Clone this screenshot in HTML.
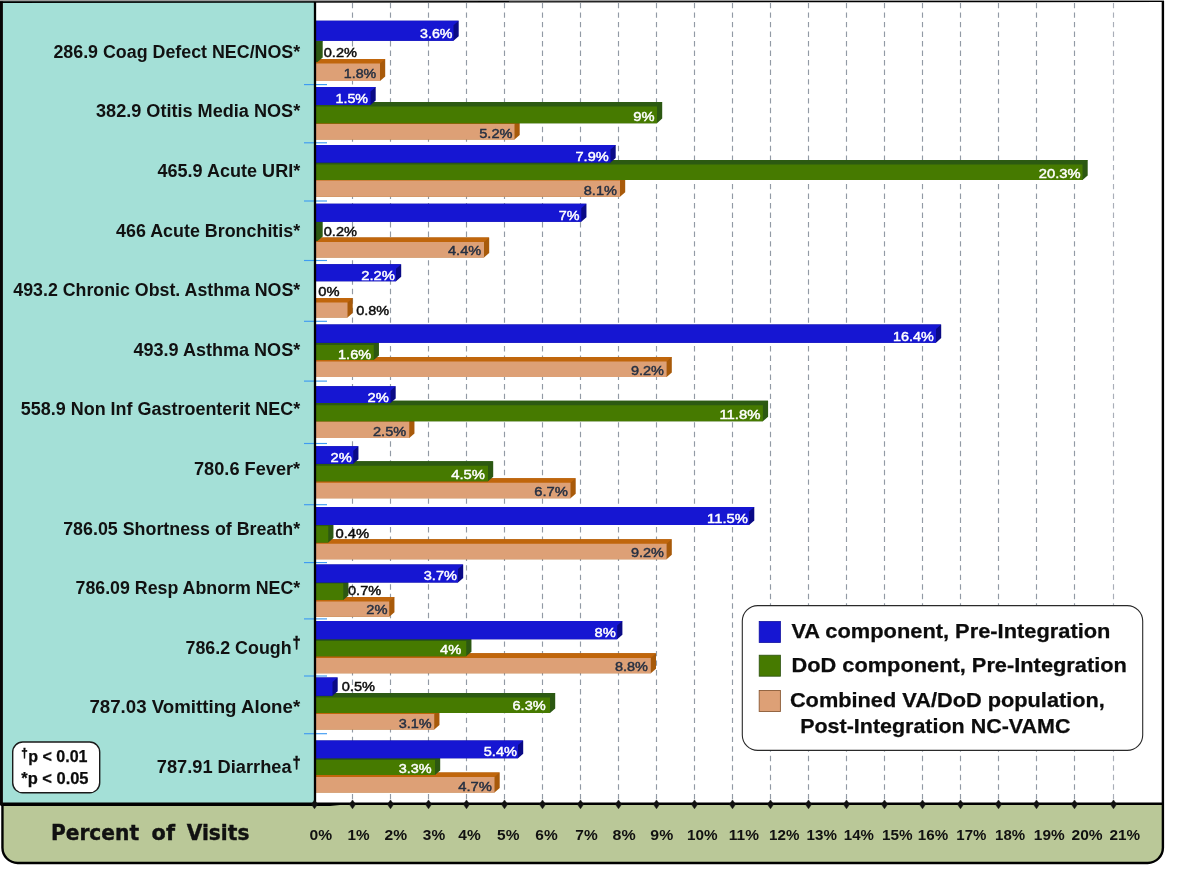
<!DOCTYPE html>
<html lang="en"><head><meta charset="utf-8"><title>Percent of Visits by diagnosis</title>
<style>html,body{margin:0;padding:0;background:#fff}svg{display:block}text{font-family:"Liberation Sans",sans-serif}.lab{font-size:18px;font-weight:bold;fill:#111}.val{font-size:13.5px;font-weight:normal;stroke-width:.45px}.ax{font-size:14.2px;font-weight:bold;fill:#111}.leg{font-size:20.5px;stroke:#0c0c0c;stroke-width:.25px;font-weight:bold;fill:#0c0c0c}.pv{font-size:16px;font-weight:bold;fill:#0c0c0c;stroke:#0c0c0c;stroke-width:.25px}.ft text{font-family:"DejaVu Sans","Liberation Sans",sans-serif;font-size:21.3px;font-weight:bold;fill:#111;stroke:#111;stroke-width:.4px}</style></head><body>
<svg width="1200" height="873" viewBox="0 0 1200 873">
<rect width="1200" height="873" fill="#fff"/>
<path d="M2.45,1.0 H1162.9 V847.75 A15.2,15.2 0 0 1 1147.7,862.95 H17.65 A15.2,15.2 0 0 1 2.45,847.75 Z" fill="#bac898"/>
<rect x="2.45" y="1.0" width="1160.45" height="803.0" fill="#fff"/>
<g stroke="#929aa5" stroke-width="1.15" stroke-dasharray="5.4 4.13" fill="none">
<path d="M352.50,2.9 V802"/>
<path d="M390.50,2.9 V802"/>
<path d="M428.50,2.9 V802"/>
<path d="M466.50,2.9 V802"/>
<path d="M504.50,2.9 V802"/>
<path d="M542.50,2.9 V802"/>
<path d="M580.50,2.9 V802"/>
<path d="M618.50,2.9 V802"/>
<path d="M656.50,2.9 V802"/>
<path d="M694.50,2.9 V802"/>
<path d="M732.50,2.9 V802"/>
<path d="M770.50,2.9 V802"/>
<path d="M808.50,2.9 V802"/>
<path d="M846.50,2.9 V802"/>
<path d="M884.50,2.9 V802"/>
<path d="M922.50,2.9 V802"/>
<path d="M960.50,2.9 V802"/>
<path d="M998.50,2.9 V802"/>
<path d="M1036.50,2.9 V802"/>
<path d="M1074.50,2.9 V802"/>
<path d="M1113.50,2.9 V802" stroke="#a9aeb8"/>
</g>
<g>
<path d="M307.0,59 H385.2 V76.4 L380,81 H307.0 Z" fill="#a85a0a"/><path d="M307.0,59 H385.2 L380,63.6 V64.6 H307.0 Z" fill="#c0660c"/><path d="M307.0,63.6 H380 V81 H307.0 Z" fill="#dda076"/>
<path d="M307.0,41 H322.7 V57.4 L317.5,62 H307.0 Z" fill="#2c5812"/><path d="M307.0,41 H322.7 L317.5,45.6 V46.6 H307.0 Z" fill="#2c5a12"/><path d="M307.0,45.6 H317.5 V62 H307.0 Z" fill="#2c5812"/>
<path d="M307.0,20.75 H458.7 V36.15 L453.5,40.75 H307.0 Z" fill="#0a0a86"/><path d="M307.0,20.75 H458.7 L453.5,25.35 V40.75 H307.0 Z" fill="#1616d2"/>
<path d="M307.0,119.5 H519.7 V134.9 L514.5,139.5 H307.0 Z" fill="#a85a0a"/><path d="M307.0,119.5 H519.7 L514.5,124.1 V125.1 H307.0 Z" fill="#c0660c"/><path d="M307.0,124.1 H514.5 V139.5 H307.0 Z" fill="#dda076"/>
<path d="M307.0,102 H662.2 V118.60000000000001 L657,123.2 H307.0 Z" fill="#2c5812"/><path d="M307.0,102 H662.2 L657,106.6 V107.6 H307.0 Z" fill="#2c5a12"/><path d="M307.0,106.6 H657 V123.2 H307.0 Z" fill="#467a00"/>
<path d="M307.0,87 H375.7 V100.4 L370.5,105 H307.0 Z" fill="#0a0a86"/><path d="M307.0,87 H375.7 L370.5,91.6 V105 H307.0 Z" fill="#1616d2"/>
<path d="M307.0,176 H625.2 V192.15 L620,196.75 H307.0 Z" fill="#a85a0a"/><path d="M307.0,176 H625.2 L620,180.6 V181.6 H307.0 Z" fill="#c0660c"/><path d="M307.0,180.6 H620 V196.75 H307.0 Z" fill="#dda076"/>
<path d="M307.0,160 H1087.7 V175.4 L1082.5,180 H307.0 Z" fill="#2c5812"/><path d="M307.0,160 H1087.7 L1082.5,164.6 V165.6 H307.0 Z" fill="#2c5a12"/><path d="M307.0,164.6 H1082.5 V180 H307.0 Z" fill="#467a00"/>
<path d="M307.0,145 H615.7 V157.9 L610.5,162.5 H307.0 Z" fill="#0a0a86"/><path d="M307.0,145 H615.7 L610.5,149.6 V162.5 H307.0 Z" fill="#1616d2"/>
<path d="M307.0,237.5 H489.2 V252.9 L484,257.5 H307.0 Z" fill="#a85a0a"/><path d="M307.0,237.5 H489.2 L484,242.1 V243.1 H307.0 Z" fill="#c0660c"/><path d="M307.0,242.1 H484 V257.5 H307.0 Z" fill="#dda076"/>
<path d="M307.0,221.5 H322.7 V236.4 L317.5,241 H307.0 Z" fill="#2c5812"/><path d="M307.0,221.5 H322.7 L317.5,226.1 V227.1 H307.0 Z" fill="#2c5a12"/><path d="M307.0,226.1 H317.5 V241 H307.0 Z" fill="#2c5812"/>
<path d="M307.0,203.75 H586.45 V217.15 L581.25,221.75 H307.0 Z" fill="#0a0a86"/><path d="M307.0,203.75 H586.45 L581.25,208.35 V221.75 H307.0 Z" fill="#1616d2"/>
<path d="M307.0,298 H352.7 V312.9 L347.5,317.5 H307.0 Z" fill="#a85a0a"/><path d="M307.0,298 H352.7 L347.5,302.6 V303.6 H307.0 Z" fill="#c0660c"/><path d="M307.0,302.6 H347.5 V317.5 H307.0 Z" fill="#dda076"/>
<path d="M307.0,264.25 H401.2 V276.65 L396,281.25 H307.0 Z" fill="#0a0a86"/><path d="M307.0,264.25 H401.2 L396,268.85 V281.25 H307.0 Z" fill="#1616d2"/>
<path d="M307.0,357 H671.8000000000001 V372.4 L666.6,377 H307.0 Z" fill="#a85a0a"/><path d="M307.0,357 H671.8000000000001 L666.6,361.6 V362.6 H307.0 Z" fill="#c0660c"/><path d="M307.0,361.6 H666.6 V377 H307.0 Z" fill="#dda076"/>
<path d="M307.0,340.5 H378.95 V355.4 L373.75,360 H307.0 Z" fill="#2c5812"/><path d="M307.0,340.5 H378.95 L373.75,345.1 V346.1 H307.0 Z" fill="#2c5a12"/><path d="M307.0,345.1 H373.75 V360 H307.0 Z" fill="#467a00"/>
<path d="M307.0,324.5 H941.2 V338.09999999999997 L936,342.7 H307.0 Z" fill="#0a0a86"/><path d="M307.0,324.5 H941.2 L936,329.1 V342.7 H307.0 Z" fill="#1616d2"/>
<path d="M307.0,417 H414.45 V433.4 L409.25,438 H307.0 Z" fill="#a85a0a"/><path d="M307.0,417 H414.45 L409.25,421.6 V422.6 H307.0 Z" fill="#c0660c"/><path d="M307.0,421.6 H409.25 V438 H307.0 Z" fill="#dda076"/>
<path d="M307.0,400.75 H768.1 V416.65 L762.9,421.25 H307.0 Z" fill="#2c5812"/><path d="M307.0,400.75 H768.1 L762.9,405.35 V406.35 H307.0 Z" fill="#2c5a12"/><path d="M307.0,405.35 H762.9 V421.25 H307.0 Z" fill="#467a00"/>
<path d="M307.0,386.25 H395.7 V398.4 L390.5,403 H307.0 Z" fill="#0a0a86"/><path d="M307.0,386.25 H395.7 L390.5,390.85 V403 H307.0 Z" fill="#1616d2"/>
<path d="M307.0,478.25 H575.7 V493.65 L570.5,498.25 H307.0 Z" fill="#a85a0a"/><path d="M307.0,478.25 H575.7 L570.5,482.85 V483.85 H307.0 Z" fill="#c0660c"/><path d="M307.0,482.85 H570.5 V498.25 H307.0 Z" fill="#dda076"/>
<path d="M307.0,461.25 H493.2 V476.65 L488,481.25 H307.0 Z" fill="#2c5812"/><path d="M307.0,461.25 H493.2 L488,465.85 V466.85 H307.0 Z" fill="#2c5a12"/><path d="M307.0,465.85 H488 V481.25 H307.0 Z" fill="#467a00"/>
<path d="M307.0,446.25 H358.45 V459.15 L353.25,463.75 H307.0 Z" fill="#0a0a86"/><path d="M307.0,446.25 H358.45 L353.25,450.85 V463.75 H307.0 Z" fill="#1616d2"/>
<path d="M307.0,539.25 H671.8000000000001 V554.65 L666.6,559.25 H307.0 Z" fill="#a85a0a"/><path d="M307.0,539.25 H671.8000000000001 L666.6,543.85 V544.85 H307.0 Z" fill="#c0660c"/><path d="M307.0,543.85 H666.6 V559.25 H307.0 Z" fill="#dda076"/>
<path d="M307.0,521.5 H333.45 V537.9 L328.25,542.5 H307.0 Z" fill="#2c5812"/><path d="M307.0,521.5 H333.45 L328.25,526.1 V527.1 H307.0 Z" fill="#2c5a12"/><path d="M307.0,526.1 H328.25 V542.5 H307.0 Z" fill="#467a00"/>
<path d="M307.0,507 H754.3000000000001 V520.4 L749.1,525 H307.0 Z" fill="#0a0a86"/><path d="M307.0,507 H754.3000000000001 L749.1,511.6 V525 H307.0 Z" fill="#1616d2"/>
<path d="M307.0,597 H394.45 V612.15 L389.25,616.75 H307.0 Z" fill="#a85a0a"/><path d="M307.0,597 H394.45 L389.25,601.6 V602.6 H307.0 Z" fill="#c0660c"/><path d="M307.0,601.6 H389.25 V616.75 H307.0 Z" fill="#dda076"/>
<path d="M307.0,579 H348.45 V595.4 L343.25,600 H307.0 Z" fill="#2c5812"/><path d="M307.0,579 H348.45 L343.25,583.6 V584.6 H307.0 Z" fill="#2c5a12"/><path d="M307.0,583.6 H343.25 V600 H307.0 Z" fill="#467a00"/>
<path d="M307.0,564.5 H463.2 V577.9 L458,582.5 H307.0 Z" fill="#0a0a86"/><path d="M307.0,564.5 H463.2 L458,569.1 V582.5 H307.0 Z" fill="#1616d2"/>
<path d="M307.0,653.3 H656.0 V668.6999999999999 L650.8,673.3 H307.0 Z" fill="#a85a0a"/><path d="M307.0,653.3 H656.0 L650.8,657.9 V658.9 H307.0 Z" fill="#c0660c"/><path d="M307.0,657.9 H650.8 V673.3 H307.0 Z" fill="#dda076"/>
<path d="M307.0,636.5 H471.45 V651.65 L466.25,656.25 H307.0 Z" fill="#2c5812"/><path d="M307.0,636.5 H471.45 L466.25,641.1 V642.1 H307.0 Z" fill="#2c5a12"/><path d="M307.0,641.1 H466.25 V656.25 H307.0 Z" fill="#467a00"/>
<path d="M307.0,621 H622.4000000000001 V634.65 L617.2,639.25 H307.0 Z" fill="#0a0a86"/><path d="M307.0,621 H622.4000000000001 L617.2,625.6 V639.25 H307.0 Z" fill="#1616d2"/>
<path d="M307.0,709.5 H439.45 V724.9 L434.25,729.5 H307.0 Z" fill="#a85a0a"/><path d="M307.0,709.5 H439.45 L434.25,714.1 V715.1 H307.0 Z" fill="#c0660c"/><path d="M307.0,714.1 H434.25 V729.5 H307.0 Z" fill="#dda076"/>
<path d="M307.0,693 H555.2 V708.4 L550,713 H307.0 Z" fill="#2c5812"/><path d="M307.0,693 H555.2 L550,697.6 V698.6 H307.0 Z" fill="#2c5a12"/><path d="M307.0,697.6 H550 V713 H307.0 Z" fill="#467a00"/>
<path d="M307.0,677.5 H337.7 V691.15 L332.5,695.75 H307.0 Z" fill="#0a0a86"/><path d="M307.0,677.5 H337.7 L332.5,682.1 V695.75 H307.0 Z" fill="#1616d2"/>
<path d="M307.0,772.5 H499.7 V787.9 L494.5,792.5 H307.0 Z" fill="#a85a0a"/><path d="M307.0,772.5 H499.7 L494.5,777.1 V778.1 H307.0 Z" fill="#c0660c"/><path d="M307.0,777.1 H494.5 V792.5 H307.0 Z" fill="#dda076"/>
<path d="M307.0,755.5 H440.2 V770.4 L435,775 H307.0 Z" fill="#2c5812"/><path d="M307.0,755.5 H440.2 L435,760.1 V761.1 H307.0 Z" fill="#2c5a12"/><path d="M307.0,760.1 H435 V775 H307.0 Z" fill="#467a00"/>
<path d="M307.0,740.5 H523.2 V753.65 L518,758.25 H307.0 Z" fill="#0a0a86"/><path d="M307.0,740.5 H523.2 L518,745.1 V758.25 H307.0 Z" fill="#1616d2"/>
</g>
<rect x="2.45" y="1.0" width="312.55" height="803.0" fill="#a4e0d7"/>
<g stroke="#3f9bf2" stroke-width="1.15">
<path d="M304,84.6 H327"/>
<path d="M304,142.8 H327"/>
<path d="M304,201 H327"/>
<path d="M304,260.5 H327"/>
<path d="M304,321.3 H327"/>
<path d="M304,381.1 H327"/>
<path d="M304,443.5 H327"/>
<path d="M304,504.7 H327"/>
<path d="M304,562.6 H327"/>
<path d="M304,618.9 H327"/>
<path d="M304,676 H327"/>
<path d="M304,733.7 H327"/>
</g>
<g class="val">
<text x="420" y="38" textLength="32.50" lengthAdjust="spacingAndGlyphs" fill="#ffffff" stroke="#ffffff">3.6%</text>
<text x="323.75" y="57" textLength="33.25" lengthAdjust="spacingAndGlyphs" fill="#0c0c0c" stroke="#0c0c0c">0.2%</text>
<text x="343.75" y="77.6" textLength="32.50" lengthAdjust="spacingAndGlyphs" fill="#263042" stroke="#263042">1.8%</text>
<text x="335.5" y="103.25" textLength="32.50" lengthAdjust="spacingAndGlyphs" fill="#ffffff" stroke="#ffffff">1.5%</text>
<text x="633.25" y="120.5" textLength="21.25" lengthAdjust="spacingAndGlyphs" fill="#ffffff" stroke="#ffffff">9%</text>
<text x="479.25" y="137.5" textLength="33.25" lengthAdjust="spacingAndGlyphs" fill="#263042" stroke="#263042">5.2%</text>
<text x="575.5" y="160.6" textLength="33.25" lengthAdjust="spacingAndGlyphs" fill="#ffffff" stroke="#ffffff">7.9%</text>
<text x="1038.75" y="178" textLength="41.75" lengthAdjust="spacingAndGlyphs" fill="#ffffff" stroke="#ffffff">20.3%</text>
<text x="583.75" y="194.5" textLength="33.25" lengthAdjust="spacingAndGlyphs" fill="#263042" stroke="#263042">8.1%</text>
<text x="558.75" y="219.5" textLength="20.75" lengthAdjust="spacingAndGlyphs" fill="#ffffff" stroke="#ffffff">7%</text>
<text x="323.75" y="235.75" textLength="33.25" lengthAdjust="spacingAndGlyphs" fill="#0c0c0c" stroke="#0c0c0c">0.2%</text>
<text x="448" y="254.5" textLength="33.25" lengthAdjust="spacingAndGlyphs" fill="#263042" stroke="#263042">4.4%</text>
<text x="361.25" y="280" textLength="33.75" lengthAdjust="spacingAndGlyphs" fill="#ffffff" stroke="#ffffff">2.2%</text>
<text x="318.25" y="295.75" textLength="21.25" lengthAdjust="spacingAndGlyphs" fill="#0c0c0c" stroke="#0c0c0c">0%</text>
<text x="356.25" y="315" textLength="33.00" lengthAdjust="spacingAndGlyphs" fill="#0c0c0c" stroke="#0c0c0c">0.8%</text>
<text x="893.1" y="340.9" textLength="40.80" lengthAdjust="spacingAndGlyphs" fill="#ffffff" stroke="#ffffff">16.4%</text>
<text x="338" y="358.75" textLength="33.25" lengthAdjust="spacingAndGlyphs" fill="#ffffff" stroke="#ffffff">1.6%</text>
<text x="630.9" y="375.1" textLength="33.00" lengthAdjust="spacingAndGlyphs" fill="#263042" stroke="#263042">9.2%</text>
<text x="367.5" y="402" textLength="21.25" lengthAdjust="spacingAndGlyphs" fill="#ffffff" stroke="#ffffff">2%</text>
<text x="719.4" y="418.9" textLength="41.10" lengthAdjust="spacingAndGlyphs" fill="#ffffff" stroke="#ffffff">11.8%</text>
<text x="373" y="436.25" textLength="33.25" lengthAdjust="spacingAndGlyphs" fill="#263042" stroke="#263042">2.5%</text>
<text x="330.5" y="462" textLength="21.25" lengthAdjust="spacingAndGlyphs" fill="#ffffff" stroke="#ffffff">2%</text>
<text x="451.25" y="478.75" textLength="33.75" lengthAdjust="spacingAndGlyphs" fill="#ffffff" stroke="#ffffff">4.5%</text>
<text x="534.25" y="496.25" textLength="33.75" lengthAdjust="spacingAndGlyphs" fill="#263042" stroke="#263042">6.7%</text>
<text x="707.1" y="523" textLength="40.80" lengthAdjust="spacingAndGlyphs" fill="#ffffff" stroke="#ffffff">11.5%</text>
<text x="335.5" y="537.5" textLength="33.75" lengthAdjust="spacingAndGlyphs" fill="#0c0c0c" stroke="#0c0c0c">0.4%</text>
<text x="630.9" y="556.9" textLength="33.00" lengthAdjust="spacingAndGlyphs" fill="#263042" stroke="#263042">9.2%</text>
<text x="423.75" y="580" textLength="33.25" lengthAdjust="spacingAndGlyphs" fill="#ffffff" stroke="#ffffff">3.7%</text>
<text x="348" y="595" textLength="33.25" lengthAdjust="spacingAndGlyphs" fill="#0c0c0c" stroke="#0c0c0c">0.7%</text>
<text x="366.25" y="614.4" textLength="21.25" lengthAdjust="spacingAndGlyphs" fill="#263042" stroke="#263042">2%</text>
<text x="594.5" y="637" textLength="21.30" lengthAdjust="spacingAndGlyphs" fill="#ffffff" stroke="#ffffff">8%</text>
<text x="440" y="653.75" textLength="21.25" lengthAdjust="spacingAndGlyphs" fill="#ffffff" stroke="#ffffff">4%</text>
<text x="615" y="670.8" textLength="33.00" lengthAdjust="spacingAndGlyphs" fill="#263042" stroke="#263042">8.8%</text>
<text x="341.75" y="690.75" textLength="33.25" lengthAdjust="spacingAndGlyphs" fill="#0c0c0c" stroke="#0c0c0c">0.5%</text>
<text x="512.5" y="710" textLength="33.25" lengthAdjust="spacingAndGlyphs" fill="#ffffff" stroke="#ffffff">6.3%</text>
<text x="398.75" y="727.5" textLength="33.00" lengthAdjust="spacingAndGlyphs" fill="#263042" stroke="#263042">3.1%</text>
<text x="483.75" y="756.25" textLength="33.25" lengthAdjust="spacingAndGlyphs" fill="#ffffff" stroke="#ffffff">5.4%</text>
<text x="398.75" y="773.25" textLength="33.00" lengthAdjust="spacingAndGlyphs" fill="#ffffff" stroke="#ffffff">3.3%</text>
<text x="458.25" y="790.5" textLength="33.75" lengthAdjust="spacingAndGlyphs" fill="#263042" stroke="#263042">4.7%</text>
</g>
<g class="lab">
<text x="53.4" y="57.8" textLength="246.8" lengthAdjust="spacingAndGlyphs">286.9 Coag Defect NEC/NOS*</text>
<text x="96.0" y="117.4" textLength="204.2" lengthAdjust="spacingAndGlyphs">382.9 Otitis Media NOS*</text>
<text x="157.5" y="177.0" textLength="142.7" lengthAdjust="spacingAndGlyphs">465.9 Acute URI*</text>
<text x="116.0" y="236.6" textLength="184.2" lengthAdjust="spacingAndGlyphs">466 Acute Bronchitis*</text>
<text x="13.3" y="296.2" textLength="286.9" lengthAdjust="spacingAndGlyphs">493.2 Chronic Obst. Asthma NOS*</text>
<text x="133.4" y="355.8" textLength="166.8" lengthAdjust="spacingAndGlyphs">493.9 Asthma NOS*</text>
<text x="20.8" y="415.4" textLength="279.4" lengthAdjust="spacingAndGlyphs">558.9 Non Inf Gastroenterit NEC*</text>
<text x="194.0" y="475.0" textLength="106.2" lengthAdjust="spacingAndGlyphs">780.6 Fever*</text>
<text x="63.2" y="534.6" textLength="237.0" lengthAdjust="spacingAndGlyphs">786.05 Shortness of Breath*</text>
<text x="75.5" y="594.2" textLength="224.7" lengthAdjust="spacingAndGlyphs">786.09 Resp Abnorm NEC*</text>
<text x="185.5" y="653.8" textLength="106.1" lengthAdjust="spacingAndGlyphs">786.2 Cough</text>
<text x="292.6" y="648.3" font-size="17" textLength="8.2" lengthAdjust="spacingAndGlyphs" stroke="#111" stroke-width=".5">†</text>
<text x="89.4" y="713.4" textLength="210.8" lengthAdjust="spacingAndGlyphs">787.03 Vomitting Alone*</text>
<text x="156.8" y="773.0" textLength="134.8" lengthAdjust="spacingAndGlyphs">787.91 Diarrhea</text>
<text x="292.6" y="767.5" font-size="17" textLength="8.2" lengthAdjust="spacingAndGlyphs" stroke="#111" stroke-width=".5">†</text>
</g>
<rect x="12.7" y="742" width="87" height="50.8" rx="10" ry="10" fill="#fff" stroke="#1a1a1a" stroke-width="1.4"/>
<g class="pv">
<text x="21.3" y="757.3" font-size="13.5" textLength="6.5" lengthAdjust="spacingAndGlyphs" stroke-width=".6">†</text>
<text x="28.2" y="761.7" textLength="59.3" lengthAdjust="spacingAndGlyphs">p &lt; 0.01</text>
<text x="21.3" y="784.3" textLength="67.2" lengthAdjust="spacingAndGlyphs">*p &lt; 0.05</text>
</g>
<rect x="742.3" y="605.6" width="400.4" height="144.8" rx="15.5" ry="15.5" fill="#fff" stroke="#2a2a2a" stroke-width="1.1"/>
<rect x="759.2" y="621.5" width="21.2" height="21" fill="#1616d2" stroke="#1010a0" stroke-width=".8"/>
<rect x="759.2" y="655.2" width="21.2" height="21" fill="#467a00" stroke="#2c5010" stroke-width=".8"/>
<rect x="759.2" y="690.5" width="21.2" height="21" fill="#dda076" stroke="#8a5a36" stroke-width=".9"/>
<g class="leg">
<text x="791.4" y="638.3" textLength="319" lengthAdjust="spacingAndGlyphs">VA component, Pre-Integration</text>
<text x="791.4" y="671.8" textLength="335.5" lengthAdjust="spacingAndGlyphs">DoD component, Pre-Integration</text>
<text x="789.9" y="706.6" textLength="315" lengthAdjust="spacingAndGlyphs">Combined VA/DoD population,</text>
<text x="800.2" y="733.3" textLength="270.2" lengthAdjust="spacingAndGlyphs">Post-Integration NC-VAMC</text>
</g>
<path d="M315.0,2 V804" stroke="#000" stroke-width="2.3" fill="none"/>
<path d="M1,802.45 H1162.9 V804.9 H340 L330,805.9 H1 Z" fill="#000"/>
<g fill="#111">
<path d="M314.50,799.9 L317.60,804.3 L314.50,808.8 L311.40,804.3 Z" stroke="#111" stroke-width=".5" stroke-linejoin="round"/>
<path d="M352.50,799.9 L355.60,804.3 L352.50,808.8 L349.40,804.3 Z" stroke="#111" stroke-width=".5" stroke-linejoin="round"/>
<path d="M390.50,799.9 L393.60,804.3 L390.50,808.8 L387.40,804.3 Z" stroke="#111" stroke-width=".5" stroke-linejoin="round"/>
<path d="M428.50,799.9 L431.60,804.3 L428.50,808.8 L425.40,804.3 Z" stroke="#111" stroke-width=".5" stroke-linejoin="round"/>
<path d="M466.50,799.9 L469.60,804.3 L466.50,808.8 L463.40,804.3 Z" stroke="#111" stroke-width=".5" stroke-linejoin="round"/>
<path d="M504.50,799.9 L507.60,804.3 L504.50,808.8 L501.40,804.3 Z" stroke="#111" stroke-width=".5" stroke-linejoin="round"/>
<path d="M542.50,799.9 L545.60,804.3 L542.50,808.8 L539.40,804.3 Z" stroke="#111" stroke-width=".5" stroke-linejoin="round"/>
<path d="M580.50,799.9 L583.60,804.3 L580.50,808.8 L577.40,804.3 Z" stroke="#111" stroke-width=".5" stroke-linejoin="round"/>
<path d="M618.50,799.9 L621.60,804.3 L618.50,808.8 L615.40,804.3 Z" stroke="#111" stroke-width=".5" stroke-linejoin="round"/>
<path d="M656.50,799.9 L659.60,804.3 L656.50,808.8 L653.40,804.3 Z" stroke="#111" stroke-width=".5" stroke-linejoin="round"/>
<path d="M694.50,799.9 L697.60,804.3 L694.50,808.8 L691.40,804.3 Z" stroke="#111" stroke-width=".5" stroke-linejoin="round"/>
<path d="M732.50,799.9 L735.60,804.3 L732.50,808.8 L729.40,804.3 Z" stroke="#111" stroke-width=".5" stroke-linejoin="round"/>
<path d="M770.50,799.9 L773.60,804.3 L770.50,808.8 L767.40,804.3 Z" stroke="#111" stroke-width=".5" stroke-linejoin="round"/>
<path d="M808.50,799.9 L811.60,804.3 L808.50,808.8 L805.40,804.3 Z" stroke="#111" stroke-width=".5" stroke-linejoin="round"/>
<path d="M846.50,799.9 L849.60,804.3 L846.50,808.8 L843.40,804.3 Z" stroke="#111" stroke-width=".5" stroke-linejoin="round"/>
<path d="M884.50,799.9 L887.60,804.3 L884.50,808.8 L881.40,804.3 Z" stroke="#111" stroke-width=".5" stroke-linejoin="round"/>
<path d="M922.50,799.9 L925.60,804.3 L922.50,808.8 L919.40,804.3 Z" stroke="#111" stroke-width=".5" stroke-linejoin="round"/>
<path d="M960.50,799.9 L963.60,804.3 L960.50,808.8 L957.40,804.3 Z" stroke="#111" stroke-width=".5" stroke-linejoin="round"/>
<path d="M998.50,799.9 L1001.60,804.3 L998.50,808.8 L995.40,804.3 Z" stroke="#111" stroke-width=".5" stroke-linejoin="round"/>
<path d="M1036.50,799.9 L1039.60,804.3 L1036.50,808.8 L1033.40,804.3 Z" stroke="#111" stroke-width=".5" stroke-linejoin="round"/>
<path d="M1074.50,799.9 L1077.60,804.3 L1074.50,808.8 L1071.40,804.3 Z" stroke="#111" stroke-width=".5" stroke-linejoin="round"/>
<path d="M1113.50,799.9 L1116.60,804.3 L1113.50,808.8 L1110.40,804.3 Z" stroke="#111" stroke-width=".5" stroke-linejoin="round"/>
</g>
<path d="M1162.9,1 V847.75 A15.2,15.2 0 0 1 1147.7,862.95 H17.65 A15.2,15.2 0 0 1 2.45,847.75 V804" fill="none" stroke="#000" stroke-width="2.4"/>
<rect x="0" y="0" width="2.9" height="805.5" fill="#080606"/>
<path d="M0,0 H1164.0 V1.2 L0,1.6 Z" fill="#9c9c9c"/>
<path d="M0,1.3 L1164.0,0.9 V2.05 L0,2.9 Z" fill="#000"/>
<g class="ft">
<text x="50.9" y="839.8" textLength="88.2" lengthAdjust="spacingAndGlyphs">Percent</text>
<text x="151.6" y="839.8" textLength="23.4" lengthAdjust="spacingAndGlyphs">of</text>
<text x="186.7" y="839.8" textLength="62.7" lengthAdjust="spacingAndGlyphs">Visits</text>
</g>
<g class="ax">
<text x="309.60" y="840.2" textLength="22.60" lengthAdjust="spacingAndGlyphs">0%</text>
<text x="347.60" y="840.2" textLength="22.10" lengthAdjust="spacingAndGlyphs">1%</text>
<text x="384.60" y="840.2" textLength="22.60" lengthAdjust="spacingAndGlyphs">2%</text>
<text x="422.85" y="840.2" textLength="22.35" lengthAdjust="spacingAndGlyphs">3%</text>
<text x="458.35" y="840.2" textLength="22.35" lengthAdjust="spacingAndGlyphs">4%</text>
<text x="497.10" y="840.2" textLength="22.35" lengthAdjust="spacingAndGlyphs">5%</text>
<text x="535.35" y="840.2" textLength="22.35" lengthAdjust="spacingAndGlyphs">6%</text>
<text x="575.35" y="840.2" textLength="22.35" lengthAdjust="spacingAndGlyphs">7%</text>
<text x="612.60" y="840.2" textLength="23.10" lengthAdjust="spacingAndGlyphs">8%</text>
<text x="650.35" y="840.2" textLength="22.85" lengthAdjust="spacingAndGlyphs">9%</text>
<text x="687.10" y="840.2" textLength="30.60" lengthAdjust="spacingAndGlyphs">10%</text>
<text x="728.85" y="840.2" textLength="30.10" lengthAdjust="spacingAndGlyphs">11%</text>
<text x="769.10" y="840.2" textLength="30.35" lengthAdjust="spacingAndGlyphs">12%</text>
<text x="806.60" y="840.2" textLength="30.35" lengthAdjust="spacingAndGlyphs">13%</text>
<text x="843.85" y="840.2" textLength="30.10" lengthAdjust="spacingAndGlyphs">14%</text>
<text x="882.10" y="840.2" textLength="30.60" lengthAdjust="spacingAndGlyphs">15%</text>
<text x="917.85" y="840.2" textLength="30.35" lengthAdjust="spacingAndGlyphs">16%</text>
<text x="956.35" y="840.2" textLength="30.10" lengthAdjust="spacingAndGlyphs">17%</text>
<text x="995.10" y="840.2" textLength="30.10" lengthAdjust="spacingAndGlyphs">18%</text>
<text x="1033.85" y="840.2" textLength="30.85" lengthAdjust="spacingAndGlyphs">19%</text>
<text x="1071.60" y="840.2" textLength="31.10" lengthAdjust="spacingAndGlyphs">20%</text>
<text x="1109.60" y="840.2" textLength="30.60" lengthAdjust="spacingAndGlyphs">21%</text>
</g>
</svg></body></html>
